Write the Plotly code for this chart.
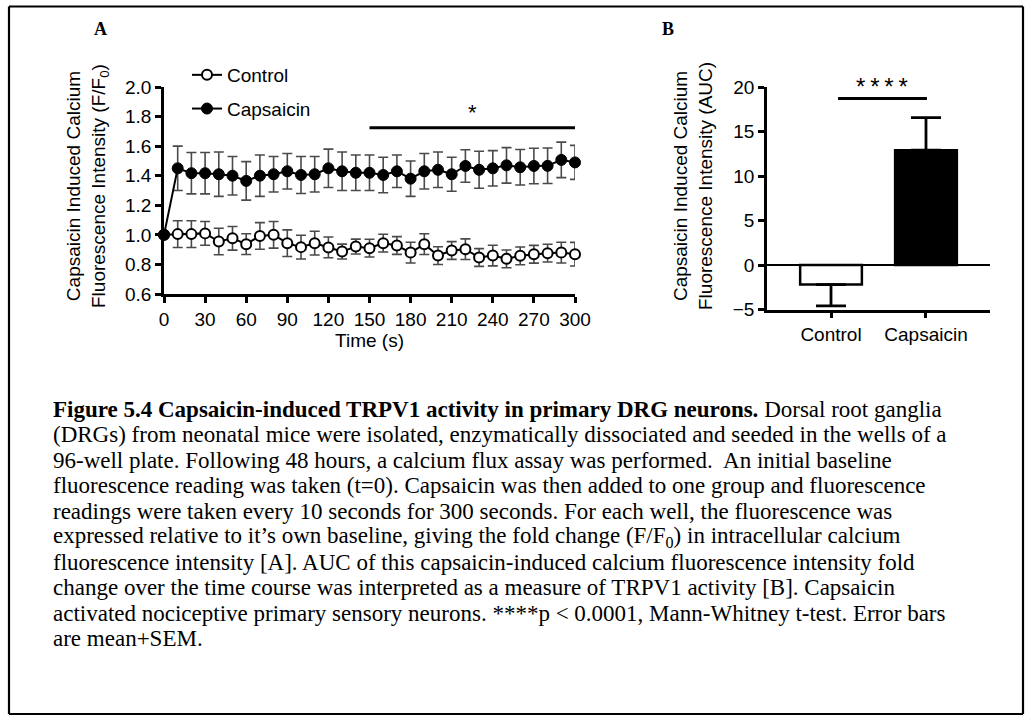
import plotly.graph_objects as go

# ---------------- data ----------------
time_s = [0, 10, 20, 30, 40, 50, 60, 70, 80, 90, 100, 110, 120, 130, 140, 150,
          160, 170, 180, 190, 200, 210, 220, 230, 240, 250, 260, 270, 280, 290, 300]
control_mean = [1.0, 1.005, 1.005, 1.01, 0.955, 0.977, 0.937, 0.993, 1.0, 0.944, 0.917,
                0.944, 0.915, 0.887, 0.921, 0.91, 0.944, 0.928, 0.88, 0.937, 0.86,
                0.894, 0.903, 0.847, 0.86, 0.838, 0.858, 0.869, 0.876, 0.88, 0.869]
control_sem = [0, 0.09, 0.09, 0.08, 0.09, 0.08, 0.07, 0.09, 0.09, 0.09, 0.08,
               0.08, 0.07, 0.05, 0.05, 0.06, 0.06, 0.06, 0.07, 0.07, 0.06,
               0.06, 0.07, 0.06, 0.07, 0.06, 0.06, 0.06, 0.06, 0.07, 0.08]
capsaicin_mean = [1.0, 1.45, 1.417, 1.417, 1.41, 1.40, 1.365, 1.40, 1.41, 1.43, 1.405,
                  1.41, 1.45, 1.43, 1.42, 1.42, 1.405, 1.43, 1.38, 1.43, 1.44,
                  1.41, 1.466, 1.44, 1.45, 1.47, 1.457, 1.466, 1.467, 1.507, 1.49]
capsaicin_sem = [0, 0.15, 0.14, 0.14, 0.15, 0.13, 0.13, 0.14, 0.12, 0.12, 0.125,
                 0.12, 0.13, 0.13, 0.12, 0.12, 0.12, 0.11, 0.12, 0.12, 0.12,
                 0.115, 0.11, 0.125, 0.12, 0.12, 0.12, 0.12, 0.12, 0.12, 0.115]
time_ticks = [0, 30, 60, 90, 120, 150, 180, 210, 240, 270, 300]
fold_ticks = [0.6, 0.8, 1.0, 1.2, 1.4, 1.6, 1.8, 2.0]

auc_groups = ["Control", "Capsaicin"]
auc_mean = [-2.2, 12.9]
auc_sem = [2.4, 3.65]
auc_ticks = [-5, 0, 5, 10, 15, 20]

sig_a_range = [150, 300]
sig_a_level = 1.725
sig_b_level = 18.7

caption_lines = [
    "<b>Figure 5.4 Capsaicin-induced TRPV1 activity in primary DRG neurons.</b> Dorsal root ganglia",
    "(DRGs) from neonatal mice were isolated, enzymatically dissociated and seeded in the wells of a",
    "96-well plate. Following 48 hours, a calcium flux assay was performed.  An initial baseline",
    "fluorescence reading was taken (t=0). Capsaicin was then added to one group and fluorescence",
    "readings were taken every 10 seconds for 300 seconds. For each well, the fluorescence was",
    "expressed relative to it\u2019s own baseline, giving the fold change (F/F<sub>0</sub>) in intracellular calcium",
    "fluorescence intensity [A]. AUC of this capsaicin-induced calcium fluorescence intensity fold",
    "change over the time course was interpreted as a measure of TRPV1 activity [B]. Capsaicin",
    "activated nociceptive primary sensory neurons. ****p &lt; 0.0001, Mann-Whitney t-test. Error bars",
    "are mean+SEM.",
]

W, H = 1032, 720
TOP = 20  # top margin in px; paper area spans pixel rows TOP..H


def px(x):
    return x / W


def py(y):
    return 1 - (y - TOP) / (H - TOP)


SANS = "Liberation Sans, Arial, sans-serif"
SERIF = "Liberation Serif, Times New Roman, serif"
ERR = "#4a4a4a"

fig = go.Figure()

# ---------- Panel A ----------
fig.add_trace(go.Scatter(
    x=time_s, y=control_mean, name="Control", mode="lines+markers",
    legendgroup="c",
    line=dict(color="black", width=2),
    marker=dict(symbol="circle", size=10, color="white", line=dict(color="black", width=2)),
    error_y=dict(type="data", array=control_sem, color=ERR, thickness=1.6, width=5),
    cliponaxis=False, xaxis="x", yaxis="y"))
fig.add_trace(go.Scatter(
    x=time_s, y=capsaicin_mean, name="Capsaicin", mode="lines+markers",
    legendgroup="k",
    line=dict(color="black", width=2),
    marker=dict(symbol="circle", size=11, color="black", line=dict(color="black", width=1)),
    error_y=dict(type="data", array=capsaicin_sem, color=ERR, thickness=1.6, width=5),
    cliponaxis=False, xaxis="x", yaxis="y"))

# ---------- Panel B ----------
fig.add_trace(go.Bar(
    x=auc_groups, y=auc_mean, showlegend=False, width=0.65,
    marker=dict(color=["white", "black"], line=dict(color="black", width=2.5)),
    error_y=dict(type="data", symmetric=False, array=[0, auc_sem[1]],
                 arrayminus=[auc_sem[0], 0], color="black", thickness=2.8, width=15),
    xaxis="x2", yaxis="y2"))

axis_common = dict(showline=True, linecolor="black", linewidth=2.5, ticks="outside",
                   ticklen=6, tickwidth=2.5, tickcolor="black", showgrid=False,
                   automargin=False,
                   tickfont=dict(family=SANS, size=19, color="black"))

fig.update_layout(
    width=W, height=H, margin=dict(l=0, r=0, t=TOP, b=0, autoexpand=False),
    paper_bgcolor="white", plot_bgcolor="white",
    font=dict(family=SANS, color="black"),
    xaxis=dict(domain=[px(164), px(575)], range=[0, 300], tickvals=time_ticks,
               zeroline=False, anchor="y",
               title=dict(text="Time (s)", font=dict(family=SANS, size=19), standoff=0),
               **axis_common),
    yaxis=dict(domain=[py(294), py(87)], range=[0.6, 2.0], tickvals=fold_ticks,
               tickformat=".1f", zeroline=False, anchor="x", **axis_common),
    xaxis2=dict(domain=[px(767), px(990)], range=[-0.674, 1.674], type="category",
                zeroline=False, anchor="y2", **axis_common),
    yaxis2=dict(domain=[py(309.5), py(87)], range=[-5, 20], tickvals=auc_ticks,
                zeroline=True, zerolinecolor="black", zerolinewidth=2.2,
                anchor="x2", **axis_common),
    legend=dict(x=px(187), y=py(56), xanchor="left", yanchor="top",
                bgcolor="rgba(0,0,0,0)", font=dict(family=SANS, size=19),
                tracegroupgap=6, itemwidth=30),
    showlegend=True,
)

# y-axis titles
fig.add_annotation(xref="paper", yref="paper", x=px(88), y=py(186),
                   text="Capsaicin Induced Calcium<br>Fluorescence Intensity (F/F<sub>0</sub>)",
                   textangle=-90, showarrow=False, font=dict(family=SANS, size=19),
                   xanchor="center", yanchor="middle")
fig.add_annotation(xref="paper", yref="paper", x=px(693), y=py(186),
                   text="Capsaicin Induced Calcium<br>Fluorescence Intensity (AUC)",
                   textangle=-90, showarrow=False, font=dict(family=SANS, size=19),
                   xanchor="center", yanchor="middle")

# significance marks
fig.add_shape(type="line", xref="x", yref="y", x0=sig_a_range[0], x1=sig_a_range[1],
              y0=sig_a_level, y1=sig_a_level, line=dict(color="black", width=3))
fig.add_annotation(xref="x", yref="y", x=sum(sig_a_range) / 2, y=sig_a_level, text="*",
                   showarrow=False, yanchor="bottom", yshift=1,
                   font=dict(family=SANS, size=22))
fig.add_shape(type="line", xref="x2", yref="y2", x0=0.074, x1=1.01,
              y0=sig_b_level, y1=sig_b_level, line=dict(color="black", width=3))
fig.add_annotation(xref="x2", yref="y2", x=0.54, y=sig_b_level,
                   text="*\u2009*\u2009*\u2009*",
                   showarrow=False, yanchor="bottom", yshift=-3,
                   font=dict(family=SANS, size=24))

# panel letters
fig.add_annotation(xref="paper", yref="paper", x=px(100), y=py(29), text="<b>A</b>",
                   showarrow=False, xanchor="center", yanchor="middle",
                   font=dict(family=SERIF, size=18))
fig.add_annotation(xref="paper", yref="paper", x=px(668), y=py(29), text="<b>B</b>",
                   showarrow=False, xanchor="center", yanchor="middle",
                   font=dict(family=SERIF, size=18))

# caption
for i, line in enumerate(caption_lines):
    fig.add_annotation(xref="paper", yref="paper", x=px(51), y=py(409 + 25.5 * i),
                       text=line, showarrow=False, xanchor="left", yanchor="middle",
                       font=dict(family=SERIF, size=23, color="black"))

# outer frame (four edges)
frame_l, frame_r, frame_t, frame_b = px(9), px(1023), py(6.5), py(714)
for (x0, y0, x1, y1) in [(frame_l, frame_t, frame_r, frame_t),
                         (frame_l, frame_b, frame_r, frame_b),
                         (frame_l, frame_b, frame_l, frame_t),
                         (frame_r, frame_b, frame_r, frame_t)]:
    fig.add_shape(type="line", xref="paper", yref="paper", x0=x0, y0=y0, x1=x1, y1=y1,
                  line=dict(color="black", width=2.2))

fig.write_html(
    "out.html",
    config={"displayModeBar": False},
    post_script="document.body.style.margin='0';document.body.style.overflow='hidden';"
                "document.documentElement.style.overflow='hidden';",
)
